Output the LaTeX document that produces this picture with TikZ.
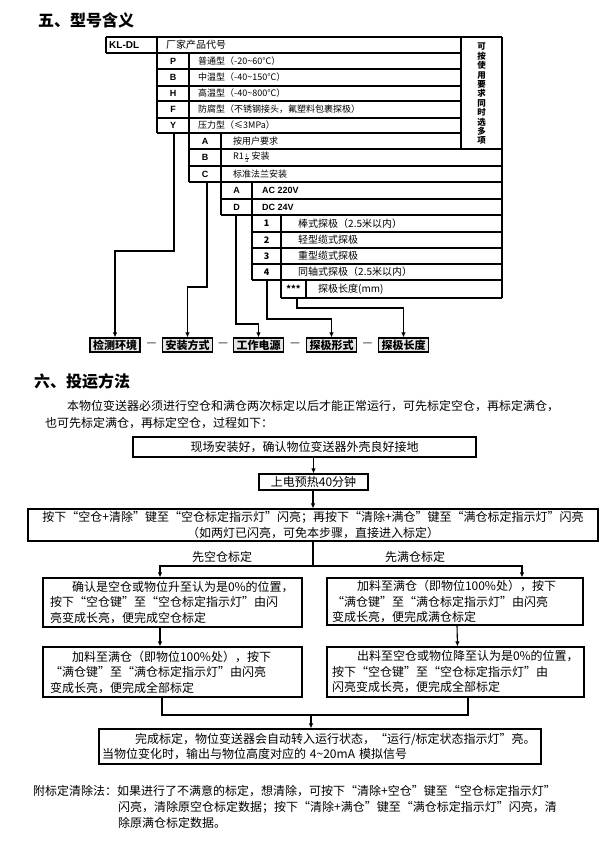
\documentclass[tikz,border=0pt]{standalone}
\usepackage{fontspec}
\newfontfamily\cjk{Noto Sans CJK SC}
\newfontfamily\lat{Liberation Sans}
\usetikzlibrary{arrows.meta}
\begin{document}
\begin{tikzpicture}[x=1pt,y=-1pt,
  every node/.style={inner sep=0pt},
  tl/.style={line width=1.1pt},
  seg/.style={line width=1.1pt},
  conn/.style={line width=1.1pt,-{Latex[length=5pt,width=4.5pt]}},
  title/.style={font=\cjk\bfseries\fontsize{16}{18}\selectfont, anchor=west},
  cell/.style={font=\cjk\fontsize{9}{10}\selectfont, anchor=west},
  cellb/.style={font=\cjk\fontsize{10}{11}\selectfont, anchor=west},
  letter/.style={font=\lat\bfseries\fontsize{9}{10}\selectfont},
  numl/.style={font=\cjk\bfseries\fontsize{9}{10}\selectfont},
  lab/.style={draw, line width=1.1pt, fill=gray!20, font=\cjk\bfseries\fontsize{11}{12}\selectfont, minimum width=50pt, minimum height=14pt},
  dashn/.style={font=\cjk\fontsize{11}{12}\selectfont},
  fbox/.style={draw, line width=1.1pt, font=\cjk\fontsize{12}{15.5}\selectfont},
  body/.style={font=\cjk\fontsize{12}{16}\selectfont, anchor=west},
]
\useasboundingbox (0,0) rectangle (600,848);
\fill[white] (0,0) rectangle (600,848);

% ---------- section 5 ----------
\node[title] (t1) at (38,20) {五、型号含义};

% table horizontal lines
\draw[tl] (106,37) -- (502,37);
\draw[tl] (106,53) -- (461,53);
\foreach \yy in {69,86,101,118,133} \draw[tl] (157,\yy) -- (461,\yy);
\foreach \yy in {149,166,182} \draw[tl] (189,\yy) -- (502,\yy);
\foreach \yy in {199,215} \draw[tl] (221,\yy) -- (502,\yy);
\foreach \yy in {232,248,264,280} \draw[tl] (252,\yy) -- (502,\yy);
\draw[tl] (281,298) -- (502,298);
% table vertical lines
\draw[tl] (106,37) -- (106,53);
\draw[tl] (157,37) -- (157,133);
\draw[tl] (189,53) -- (189,182);
\draw[tl] (221,133) -- (221,215);
\draw[tl] (252,182) -- (252,280);
\draw[tl] (281,215) -- (281,298);
\draw[tl] (306,280) -- (306,298);
\draw[tl] (461,37) -- (461,149);
\draw[tl] (502,37) -- (502,298);

% side text
\node[font=\cjk\bfseries\fontsize{8.5}{9.4}\selectfont, align=center] (side) at (481.5,94)
  {可\\按\\使\\用\\要\\求\\同\\时\\选\\多\\项};

% level 0
\node[font=\lat\bfseries\fontsize{10}{11}\selectfont, anchor=west] (kl) at (109,45) {KL-DL};
\node[cellb] (kltxt) at (166,45) {厂家产品代号};
% level 1
\node[letter] (lp) at (173,61) {P};
\node[letter] (lb) at (173,77.5) {B};
\node[letter] (lh) at (173,93.5) {H};
\node[letter] (lf) at (173,109.5) {F};
\node[letter] (ly) at (173,125.5) {Y};
\node[cell] (tp) at (198,61) {普通型（-20\textasciitilde60℃）};
\node[cell] (tb) at (198,77.5) {中温型（-40\textasciitilde150℃）};
\node[cell] (th) at (198,93.5) {高温型（-40\textasciitilde800℃）};
\node[cell] (tf) at (198,109.5) {防腐型（不锈钢接头，氟塑料包裹探极）};
\node[cell] (ty) at (198,125.5) {压力型（≤3MPa）};
% level 2
\node[letter] (l2a) at (205,141) {A};
\node[letter] (l2b) at (205,157.5) {B};
\node[letter] (l2c) at (205,174) {C};
\node[cell] (t2a) at (233,141) {按用户要求};
\node[cell] (t2b) at (233,157.5) {R1\raisebox{-0.3pt}{$\scriptstyle\frac{1}{2}$} 安装};
\node[cell] (t2c) at (233,174) {标准法兰安装};
% level 3
\node[letter] (l3a) at (236.5,190.5) {A};
\node[letter] (l3d) at (236.5,207) {D};
\node[font=\lat\bfseries\fontsize{9}{10}\selectfont, anchor=west] (t3a) at (262,190.5) {AC 220V};
\node[font=\lat\bfseries\fontsize{9}{10}\selectfont, anchor=west] (t3d) at (262,207) {DC 24V};
% level 4
\node[numl] (n1) at (266.5,223.5) {1};
\node[numl] (n2) at (266.5,240) {2};
\node[numl] (n3) at (266.5,256) {3};
\node[numl] (n4) at (266.5,272) {4};
\node[cellb] (t41) at (298,223.5) {棒式探极（2.5米以内）};
\node[cellb] (t42) at (298,240) {轻型缆式探极};
\node[cellb] (t43) at (298,256) {重型缆式探极};
\node[cellb] (t44) at (298,272) {同轴式探极（2.5米以内）};
% level 5
\node[numl] (n5) at (293.5,289) {***};
\node[cellb] (t5) at (318,289) {探极长度(mm)};

% bottom labels
\node[lab] (l1) at (115,345) {检测环境};
\node[lab] (l2) at (187.5,345) {安装方式};
\node[lab] (l3) at (258.5,345) {工作电源};
\node[lab] (l4) at (331.5,345) {探极形式};
\node[lab] (l5) at (403.5,345) {探极长度};
\node[dashn] (d1) at (151.5,345) {—};
\node[dashn] (d2) at (223,345) {—};
\node[dashn] (d3) at (295,345) {—};
\node[dashn] (d4) at (367.5,345) {—};

% connectors
\coordinate (s1) at (174,133);
\coordinate (s2) at (207,182);
\coordinate (s3) at (236,215);
\coordinate (s4) at (267,280);
\coordinate (s5) at (297,298);
\draw[conn] (s1) -- (174,251) -| (l1.north);
\draw[conn] (s2) -- (207,287) -| (l2.north);
\draw[conn] (s3) -- (236,324) -| (l3.north);
\draw[conn] (s4) -- (267,319) -| (l4.north);
\draw[conn] (s5) -- (297,308) -| (l5.north);

% ---------- section 6 ----------
\node[title] (t2) at (34,381) {六、投运方法};
\node[body] (p1) at (67,406) {本物位变送器必须进行空仓和满仓两次标定以后才能正常运行，可先标定空仓，再标定满仓，};
\node[body] (p2) at (45,423) {也可先标定满仓，再标定空仓，过程如下：};

\node[fbox, minimum width=343pt, minimum height=20pt] (b1) at (304.5,447)
  {现场安装好，确认物位变送器外壳良好接地};
\node[fbox, minimum width=109pt, minimum height=16pt] (b2) at (313.5,482)
  {上电预热40分钟};
\node[fbox, minimum width=570pt, minimum height=32pt, align=center] (b3) at (313,525)
  {按下“空仓+清除”键至“空仓标定指示灯”闪亮；再按下“清除+满仓”键至“满仓标定指示灯”闪亮\\（如两灯已闪亮，可免本步骤，直接进入标定）};

\node[font=\cjk\fontsize{12}{14}\selectfont] (lbl1) at (222,557) {先空仓标定};
\node[font=\cjk\fontsize{12}{14}\selectfont] (lbl2) at (415,557) {先满仓标定};

\node[fbox, minimum height=49pt, text width=245pt, inner xsep=7pt, align=left] (b4) at (172.5,602.5)
  {\hspace{22pt}确认是空仓或物位升至认为是0\%的位置，\\按下“空仓键”至“空仓标定指示灯”由闪\\亮变成长亮，便完成空仓标定};
\node[fbox, minimum height=47pt, text width=246pt, inner xsep=5pt, align=left] (b5) at (455,601.5)
  {\hspace{25pt}加料至满仓（即物位100\%处），按下\\“满仓键”至“满仓标定指示灯”由闪亮\\变成长亮，便完成满仓标定};
\node[fbox, minimum height=50pt, text width=245pt, inner xsep=7pt, align=left] (b6) at (172.5,672)
  {\hspace{22pt}加料至满仓（即物位100\%处），按下\\“满仓键”至“满仓标定指示灯”由闪亮\\变成长亮，便完成全部标定};
\node[fbox, minimum height=50pt, text width=247pt, inner xsep=5pt, align=left] (b7) at (455.5,672)
  {\hspace{25pt}出料至空仓或物位降至认为是0\%的位置，\\按下“空仓键”至“空仓标定指示灯”由\\闪亮变成长亮，便完成全部标定};
\node[fbox, minimum height=35pt, text width=436pt, inner xsep=3pt, align=left] (b8) at (320,746.5)
  {\hspace{33pt}完成标定，物位变送器会自动转入运行状态，“运行/标定状态指示灯”亮。\\当物位变化时，输出与物位高度对应的 4\textasciitilde20mA 模拟信号};

% flow connectors
\draw[conn] (b2.north |- b1.south) -- (b2.north);
\draw[conn] (b2.south) -- (b3.north |- b2.south) -- (b3.north);
\coordinate (br) at (313,566);
\draw[seg] (b3.south) -- (br);
\draw[conn] (br) -| ([xshift=-12.5pt]b4.north);
\draw[conn] (br) -| ([xshift=67pt]b5.north);
\draw[conn] ([xshift=-12.5pt]b4.south) -- ([xshift=-12.5pt]b6.north);
\draw[conn] ([xshift=2pt]b5.south) -- ([xshift=2pt]b7.north);
\coordinate (jn) at (311,715);
\draw[seg] ([xshift=-10.5pt]b6.south) |- ([xshift=12.5pt]b7.south |- jn) -- ([xshift=12.5pt]b7.south);
\draw[conn] (jn) -- (jn |- b8.north);

% note
\node[body] (n1t) at (33,791) {附标定清除法：如果进行了不满意的标定，想清除，可按下“清除+空仓”键至“空仓标定指示灯”};
\node[body] (n2t) at (118,807) {闪亮，清除原空仓标定数据；按下“清除+满仓”键至“满仓标定指示灯”闪亮，清};
\node[body] (n3t) at (118,823) {除原满仓标定数据。};
\end{tikzpicture}
\end{document}
